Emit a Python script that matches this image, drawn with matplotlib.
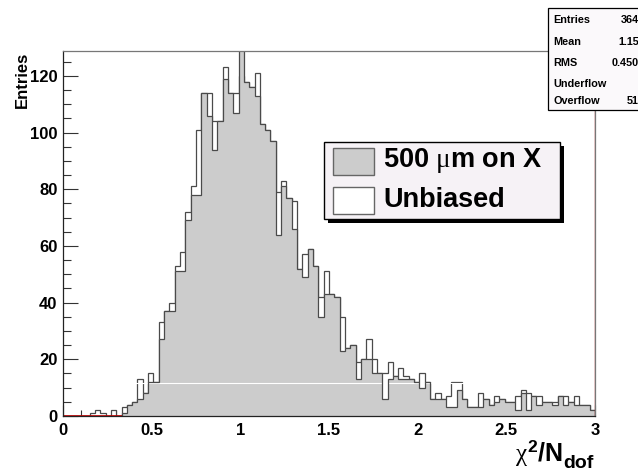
import numpy as np
import matplotlib
matplotlib.use('Agg')
import matplotlib.pyplot as plt
from matplotlib.patches import Rectangle
from matplotlib.ticker import MultipleLocator, FixedLocator, FixedFormatter

plt.rcParams['font.family'] = ['Liberation Sans', 'DejaVu Sans']
plt.rcParams['mathtext.fontset'] = 'custom'
plt.rcParams['mathtext.rm'] = 'Liberation Sans:bold'
plt.rcParams['mathtext.bf'] = 'Liberation Sans:bold'
plt.rcParams['mathtext.sf'] = 'Liberation Sans:bold'
plt.rcParams['mathtext.it'] = 'Liberation Serif'

# ---------------- data ----------------
x_min, x_max, n_bins = 0.0, 3.0, 100

shifted_500um = [
    0, 0, 0, 0, 0, 0, 0, 0, 0, 0,
    0, 1, 4, 5, 6, 8, 12, 12, 27, 37,
    37, 51, 51, 69, 78, 78, 114, 106, 94, 104,
    119, 114, 107, 131, 118, 116, 113, 103, 101, 97,
    64, 81, 77, 66, 52, 49, 59, 53, 35, 43,
    43, 42, 23, 24, 25, 13, 20, 20, 15, 15,
    6, 13, 14, 13, 13, 13, 12, 10, 12, 6,
    6, 6, 3, 3, 9, 6, 3, 3, 3, 6,
    4, 5, 6, 5, 5, 2, 8, 2, 7, 4,
    5, 5, 4, 7, 4, 5, 4, 4, 4, 2,
]

unbiased = [
    0, 0, 0, 0, 0, 1, 2, 1, 0, 2,
    0, 3, 4, 5, 13, 8, 15, 12, 33, 37,
    40, 53, 58, 72, 81, 101, 114, 114, 104, 104,
    123, 114, 114, 120, 118, 116, 121, 103, 101, 97,
    79, 83, 77, 76, 52, 57, 59, 53, 42, 51,
    43, 42, 35, 24, 25, 19, 20, 27, 20, 15,
    15, 19, 14, 17, 14, 13, 12, 15, 12, 6,
    8, 6, 7, 12, 12, 6, 3, 3, 8, 6,
    4, 7, 6, 5, 5, 7, 9, 8, 7, 7,
    5, 5, 5, 7, 7, 5, 7, 4, 4, 2,
]

series_names = ['500 $\\mu$m on X', 'Unbiased']
stats_labels = ['Entries', 'Mean', 'RMS', 'Underflow', 'Overflow']
stats_values = ['3648', '1.158', '0.4505', '0', '512']
x_ticks = [0, 0.5, 1, 1.5, 2, 2.5, 3]
x_tick_labels = ['0', '0.5', '1', '1.5', '2', '2.5', '3']
y_ticks = [0, 20, 40, 60, 80, 100, 120]
y_tick_labels = ['0', '20', '40', '60', '80', '100', '120']
y_max = 128.8
white_seam_level = 11.6

edges = np.linspace(x_min, x_max, n_bins + 1)
g = np.array(shifted_500um, dtype=float)
u = np.array(unbiased, dtype=float)

# ---------------- figure ----------------
W, H = 638, 471
fig = plt.figure(figsize=(W / 100, H / 100), dpi=100)
fig.patch.set_facecolor('white')
ax = fig.add_axes([63 / W, 55 / H, 532 / W, 365 / H])
ax.set_facecolor('white')

outline = '#4a4a4a'
fillgray = '#cccccc'

ax.stairs(u, edges, fill=True, facecolor='white', edgecolor='none', zorder=1.0)
ax.stairs(u, edges, fill=False, color=outline, lw=0.9, zorder=1.1)
ax.stairs(g, edges, fill=True, facecolor=fillgray, edgecolor='none', zorder=1.2)
ax.axhline(white_seam_level, color='white', lw=0.8, zorder=1.25)
ax.stairs(g, edges, fill=False, color=outline, lw=0.9, zorder=1.3)

# red (empty) third histogram visible where the others are empty
mask = g == 0
ax.hlines(np.zeros(mask.sum()), edges[:-1][mask], edges[1:][mask],
          color='#cc0000', lw=1.2, zorder=1.4)
ax.axvline(x_max, color='#aa1010', lw=1.0, zorder=1.4)

ax.set_xlim(x_min, x_max)
ax.set_ylim(0, y_max)
ax.set_axisbelow(True)

ax.xaxis.set_major_locator(FixedLocator(x_ticks))
ax.xaxis.set_major_formatter(FixedFormatter(x_tick_labels))
ax.xaxis.set_minor_locator(MultipleLocator(0.1))
ax.yaxis.set_major_locator(FixedLocator(y_ticks))
ax.yaxis.set_major_formatter(FixedFormatter(y_tick_labels))
ax.yaxis.set_minor_locator(MultipleLocator(5))

ax.tick_params(axis='y', which='major', direction='in', length=10.8, width=0.8,
               pad=4, labelsize=12, color='#333333')
ax.tick_params(axis='y', which='minor', direction='in', length=5.4, width=0.8,
               color='#333333')
ax.tick_params(axis='x', which='major', direction='in', length=7.9, width=0.8,
               pad=5, labelsize=12, color='#333333')
ax.tick_params(axis='x', which='minor', direction='in', length=4.0, width=0.8,
               color='#333333')
for lab in ax.get_xticklabels() + ax.get_yticklabels():
    lab.set_fontweight('bold')

for s in ['left', 'bottom']:
    ax.spines[s].set_color('#222222')
    ax.spines[s].set_linewidth(0.9)
for s in ['top', 'right']:
    ax.spines[s].set_color('#777777')
    ax.spines[s].set_linewidth(0.9)

# axis titles
fig.text(22 / W, 1 - 52 / H, 'Entries', rotation=90, ha='center', va='top',
         fontsize=12, fontweight='bold')
renderer = fig.canvas.get_renderer()
t_sub = fig.text(594 / W, 1 - 468 / H, 'dof', ha='right', va='baseline',
                 fontsize=14, fontweight='bold')
bb = t_sub.get_window_extent(renderer)
fig.text((bb.x0 - 0.5) / W, 1 - 461 / H, r'$\chi^{2}$/N', ha='right',
         va='baseline', fontsize=18, fontweight='bold')

# legend (ROOT TLegend with shadow)
lx0, ly0, lx1, ly1 = 324, 142, 560, 219
fig.add_artist(Rectangle(((lx0 + 4) / W, 1 - (ly1 + 4) / H), (lx1 - lx0) / W,
                         (ly1 - ly0) / H, transform=fig.transFigure,
                         facecolor='black', edgecolor='none', zorder=10))
fig.add_artist(Rectangle((lx0 / W, 1 - ly1 / H), (lx1 - lx0) / W, (ly1 - ly0) / H,
                         transform=fig.transFigure, facecolor='#f6f2f6',
                         edgecolor='black', lw=1.0, zorder=11))
swatch_fc = [fillgray, 'white']
rows_y = [161, 200]
for name, fc, yc in zip(series_names, swatch_fc, rows_y):
    fig.add_artist(Rectangle((333 / W, 1 - (yc + 13.5) / H), 41 / W, 27 / H,
                             transform=fig.transFigure, facecolor=fc,
                             edgecolor='#666666', lw=1.0, zorder=12))
    fig.text(383 / W, 1 - yc / H, name, ha='left', va='center', fontsize=19.5,
             fontweight='bold', zorder=12)

# stats box (cut by the canvas edge)
sx0, sy0, sy1 = 548, 8, 110
fig.add_artist(Rectangle((sx0 / W, 1 - sy1 / H), 0.3, (sy1 - sy0) / H,
                         transform=fig.transFigure, facecolor='#fbf9fb',
                         edgecolor='black', lw=0.9, zorder=20))
row_y = [20, 42, 63, 84, 101]
for lab, val, yc in zip(stats_labels, stats_values, row_y):
    fig.text(553 / W, 1 - yc / H, lab, ha='left', va='center', fontsize=7.8,
             fontweight='bold', zorder=21)
    fig.text(645 / W, 1 - yc / H, val, ha='right', va='center', fontsize=7.8,
             fontweight='bold', zorder=21)

fig.savefig('out.png', dpi=100)
